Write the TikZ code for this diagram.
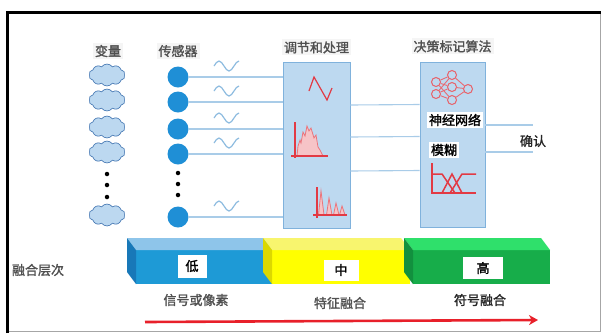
\documentclass[tikz,border=0pt]{standalone}
\usepackage{fontspec}
\setmainfont{Noto Sans CJK SC}[AutoFakeBold=1.6]
\usetikzlibrary{arrows.meta,positioning,shapes.symbols,calc}
\definecolor{skyfill}{HTML}{BDD9F0}
\definecolor{skyline}{HTML}{80B2DC}
\definecolor{wirecol}{HTML}{A9CCE8}
\definecolor{wavecol}{HTML}{8EBCE0}
\definecolor{sensorblue}{HTML}{1F8FD6}
\definecolor{cloudfill}{HTML}{BCD8F0}
\definecolor{cloudedge}{HTML}{3A6FAE}
\definecolor{plotred}{HTML}{E23A44}
\definecolor{labelgray}{HTML}{505050}
\definecolor{arrowred}{HTML}{E8202A}

\begin{document}
\begin{tikzpicture}[x=1pt, y=-1pt,
  header/.style={font=\fontsize{13}{15}\selectfont\bfseries, text=labelgray,
                 fill=black!4, inner sep=2pt},
  caption/.style={font=\fontsize{13}{15}\selectfont\bfseries, text=labelgray, inner sep=1pt},
  tag/.style={font=\fontsize{13}{15}\selectfont\bfseries, text=black,
              fill=white, inner sep=2pt},
  var/.style={cloud, cloud puffs=10, cloud puff arc=110, aspect=1.7,
              draw=cloudedge, fill=cloudfill, semithick, inner sep=0pt,
              minimum width=36pt, minimum height=22pt},
  sensor/.style={circle, fill=sensorblue, minimum size=21pt, inner sep=0pt},
  stage/.style={rectangle, draw=skyline, fill=skyfill, thick},
  wire/.style={draw=wirecol, line width=1.1pt},
  wave/.style={draw=wavecol, line width=1.2pt},
  neuron/.style={circle, draw=plotred!80, fill=skyfill, line width=1pt,
                 minimum size=9pt, inner sep=0pt},
  synapse/.style={draw=plotred!75, line width=0.9pt},
  plot/.style={draw=plotred, line width=1.5pt},
  dot/.style={circle, fill=black, minimum size=4.5pt, inner sep=0pt},
]
  \useasboundingbox (0,0) rectangle (602,333);
  \fill[white] (0,0) rectangle (602,333);

  % frame
  \draw[gray!70, line width=1pt] (600,12) -- (600,331) -- (7,331);
  \draw[black, line width=3pt] (7,333) -- (7,12) -- (601,12);

  % variables and sensors
  \foreach \i/\y in {1/75,2/100,3/127,4/152,5/215} {
    \node[var] (v\i) at (107,\y) {};
    \node[sensor] (s\i) at (178,\y+2) {};
  }
  \foreach \y in {174,185,197} \node[dot] at (107,\y) {};
  \foreach \y in {173,184,195} \node[dot] at (178,\y) {};

  \node[header] (varlbl) at (108,51) {变量};
  \node[header] (senslbl) at (178,51) {传感器};

  % processing stage
  \node[stage, minimum width=67pt, minimum height=166pt] (proc) at (316.5,145) {};
  \node[header, above=6pt of proc] (proclbl) {调节和处理};

  % decision stage
  \node[stage, minimum width=65pt, minimum height=165pt] (dec) at (452.5,144.5) {};
  \node[header, above=7pt of dec] (declbl) {决策标记算法};

  % sensor signals
  \foreach \i in {1,...,5} {
    \draw[wire] (s\i.east) -- (s\i -| proc.west);
    \draw[wave] ($(s\i)+(36,-11)$) sin ++(5,-5) cos ++(5,5) sin ++(5,5) cos ++(5,-5)
      sin ++(5,-5);
  }

  % features to decision
  \foreach \dy in {40,8,-26}
    \draw[wire] ([yshift=\dy pt]proc.east) -- ([yshift=\dy pt]dec.west);

  % output
  \node[caption, text=black!85] (ok) at (533,141) {确认};
  \draw[wire] ([yshift=19.5pt]dec.east) -- ([yshift=19.5pt]dec.east -| ok.center);
  \draw[wire] ([yshift=-7.5pt]dec.east) -- ([yshift=-7.5pt]dec.east -| ok.center);

  % processing icons
  \draw[plot, line width=1.2pt] (309,91) -- (314,77) -- (327,100) -- (332,88);
  \draw[draw=plotred!70, fill=plotred!30, line width=0.8pt]
    (297,156) -- (298,146) -- (300,140) -- (301,143) -- (303,132) -- (305,136)
    -- (307,126) -- (309,131) -- (311,128) -- (314,138) -- (316,135)
    -- (318,147) -- (320,150) -- (323,156);
  \draw[plot] (295,122) -- (295,158);
  \draw[plot] (291,156) -- (328,156);
  \foreach \x/\t in {321/191,329/198,336/203,342/206}
    \draw[draw=plotred!70, fill=plotred!30, line width=0.8pt]
      (\x-2.5,215) -- (\x,\t) -- (\x+3,215);
  \draw[plot] (317,187) -- (317,218);
  \draw[plot] (313,215) -- (347,215);

  % neural network
  \node[neuron] (n1) at (436,82) {};
  \node[neuron] (n2) at (436,94) {};
  \node[neuron] (m1) at (452,75) {};
  \node[neuron] (m2) at (452,87) {};
  \node[neuron] (m3) at (452,100) {};
  \node[neuron] (out) at (468,89) {};
  \foreach \a in {n1,n2}
    \foreach \b in {m1,m2,m3}
      \draw[synapse] (\a) -- (\b);
  \foreach \b in {m1,m2,m3} \draw[synapse] (\b) -- (out);
  \node[tag, minimum width=56pt] (nnlbl) at (455,120) {神经网络};

  % fuzzy sets
  \node[tag] (fzlbl) at (444,150) {模糊};
  \draw[plot] (432,163) -- (432,194);
  \draw[plot] (432,193) -- (476,193);
  \draw[plot] (432,174) -- (442,174) -- (455,193);
  \draw[plot] (442,193) -- (452,174) -- (462,193);
  \draw[plot] (450,193) -- (462,174) -- (476,174);

  % fusion levels
  \foreach \xa/\xb/\cf/\ct/\cs in {136/276/1E9AD6/8EC5EA/1878B8,
                                   272/410/FFFF00/F8F56E/DCD800,
                                   413/550/17AD4A/2FE06B/12903E} {
    \definecolor{cf}{HTML}{\cf}\definecolor{ct}{HTML}{\ct}\definecolor{cs}{HTML}{\cs}
    \fill[cf] (\xa,250) rectangle (\xb,284);
    \fill[ct] (\xa,250) -- (\xa-9,238) -- (\xb-9,238) -- (\xb,250) -- cycle;
    \fill[cs] (\xa,250) -- (\xa-9,238) -- (\xa-9,272) -- (\xa,284) -- cycle;
  }
  \node[tag, minimum width=29pt, minimum height=23pt] (low) at (192,266) {低};
  \node[tag, minimum width=35pt, minimum height=21pt] (mid) at (341,270) {中};
  \node[tag, minimum width=40pt, minimum height=22pt] (high) at (483,268) {高};

  \node[caption] (levels) at (38,270) {融合层次};
  \node[caption] (sig) at (196,300) {信号或像素};
  \node[caption] (feat) at (340,303) {特征融合};
  \node[caption, text=black!85] (sym) at (480,300) {符号融合};

  \coordinate (tail) at (145,322);
  \coordinate (head) at (538,320);
  \draw[-{Stealth[length=9pt,width=10pt]}, arrowred, line width=2.6pt] (tail) -- (head);
\end{tikzpicture}
\end{document}
